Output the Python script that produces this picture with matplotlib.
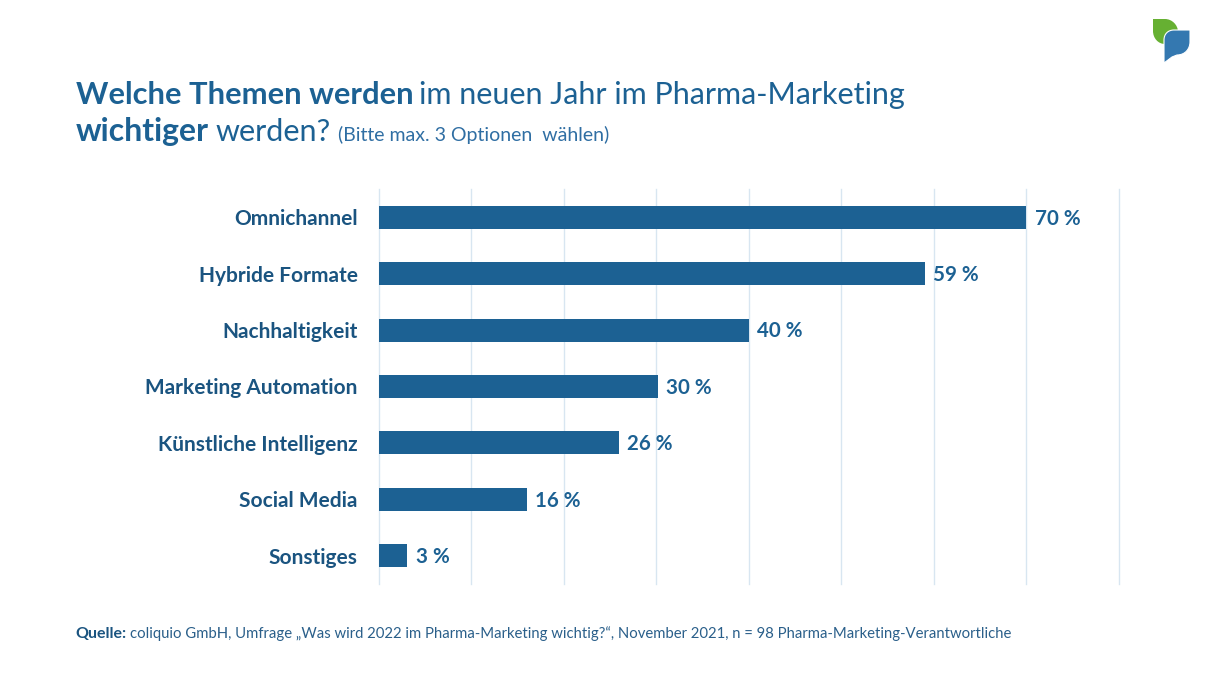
#!/usr/bin/env python3
"""Pharma-Marketing survey: horizontal bars with a mixed-weight headline."""
import matplotlib
matplotlib.use('Agg')
import matplotlib.pyplot as plt
from matplotlib.patches import PathPatch
from matplotlib.path import Path

W, H = 1210, 680
BLUE = '#1c6193'
DARK = '#1a5480'
GRID = '#d8e6f1'
FONT = 'Lato'

categories = ['Omnichannel', 'Hybride Formate', 'Nachhaltigkeit', 'Marketing Automation',
              'Künstliche Intelligenz', 'Social Media', 'Sonstiges']
values = [70, 59, 40, 30.2, 26, 16, 3.1]   # bar lengths as drawn in the picture
value_labels = ['70 %', '59 %', '40 %', '30 %', '26 %', '16 %', '3 %']
x_ticks = [0, 10, 20, 30, 40, 50, 60, 70, 80]

plt.rcParams['font.family'] = [FONT, 'DejaVu Sans']

fig = plt.figure(figsize=(W / 100, H / 100), dpi=100, facecolor='white')
ax = fig.add_axes([378.5 / W, 1 - 584 / H, 740.5 / W, 395 / H])

ypos = range(len(categories))
ax.barh(ypos, values, height=0.41, color=BLUE, zorder=3)
ax.set_xlim(0, 80)
ax.set_ylim(len(categories) - 0.5, -0.5)
ax.set_xticks(x_ticks)
ax.set_xticklabels([])
ax.set_yticks(list(ypos))
ax.set_yticklabels(categories, fontsize=15, fontweight='bold', color=DARK)
ax.tick_params(axis='both', length=0)
ax.tick_params(axis='y', pad=15)
ax.grid(True, axis='x', color=GRID, lw=1, zorder=0)
for g in ax.get_xgridlines():
    g.set_clip_on(False)
for s in ax.spines.values():
    s.set_visible(False)
for y, v, lab in zip(ypos, values, value_labels):
    ax.annotate(lab, (v, y), xytext=(6, -1), textcoords='offset points',
                va='center', ha='left', fontsize=14.8, fontweight='bold', color=BLUE)


def runs(x, y, parts):
    # lay text pieces out one after the other, baseline at pixel y
    rend = fig.canvas.get_renderer()
    for txt, size, weight, color, gap in parts:
        t = fig.text(x / W, 1 - y / H, txt, fontsize=size, fontweight=weight, color=color,
                     ha='left', va='baseline')
        x = t.get_window_extent(rend).x1 + gap


runs(76, 104, [('Welche Themen werden', 22.2, 'bold', BLUE, 5),
               ('im neuen Jahr im Pharma-Marketing', 22, 'normal', BLUE, 0)])
runs(76, 141, [('wichtiger', 23, 'bold', BLUE, 7),
               ('werden?', 22, 'normal', BLUE, 7),
               ('(Bitte max. 3 Optionen  wählen)', 14, 'normal', '#2f6ea3', 0)])
runs(75.5, 638, [('Quelle:', 11.5, 'bold', DARK, 3),
                 ('coliquio GmbH, Umfrage „Was wird 2022 im Pharma-Marketing wichtig?“, '
                  'November 2021, n = 98 Pharma-Marketing-Verantwortliche', 10.72, 'normal', '#2a5f8a', 0)])


# logo, in pixel coordinates
def leaf(points, codes, color, edge='none'):
    verts = [(px / W, 1 - py / H) for px, py in points]
    fig.add_artist(PathPatch(Path(verts, codes), fc=color, ec=edge, lw=0.8, transform=fig.transFigure))


M, L, C, Z = Path.MOVETO, Path.LINETO, Path.CURVE4, Path.CLOSEPOLY
leaf([(1153, 19), (1165, 19), (1172, 19), (1178, 25), (1178, 32), (1178, 39), (1172, 44),
      (1165, 44), (1158, 44), (1153, 38), (1153, 31), (1153, 19)],
     [M, L, C, C, C, C, C, C, C, C, C, Z], '#66b032')
leaf([(1190, 30), (1190, 42), (1190, 49), (1185, 55), (1177, 55), (1172, 57), (1168, 60),
      (1164, 63), (1164, 40), (1164, 34), (1168, 30), (1174, 30), (1190, 30)],
     [M, L, C, C, C, L, L, L, L, C, C, C, Z], '#3478b0', edge='white')

fig.savefig('out.png', dpi=100, facecolor='white')
